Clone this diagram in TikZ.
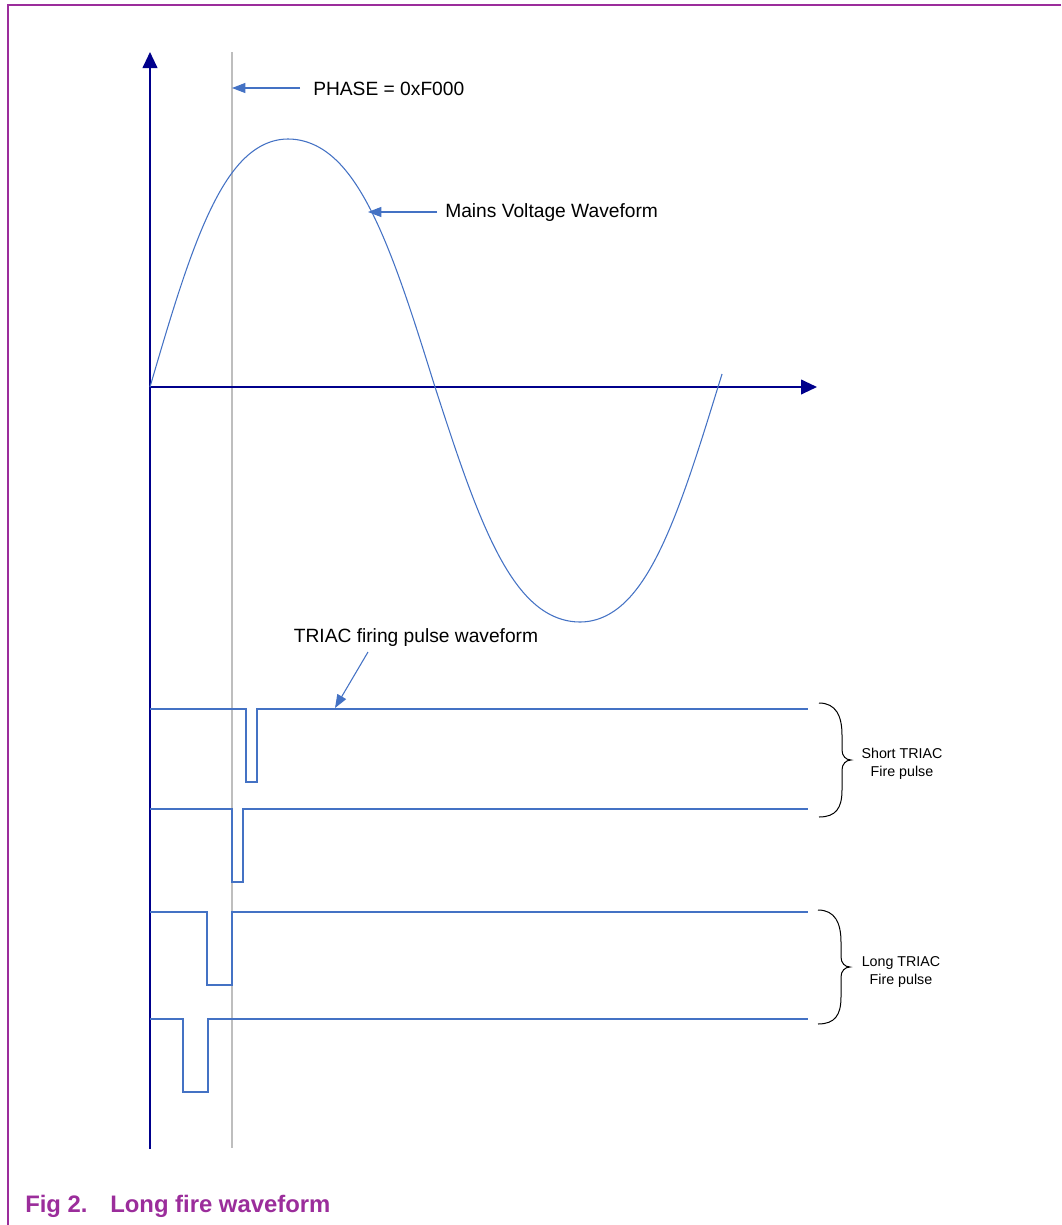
\documentclass[tikz,border=0pt]{standalone}
\usepackage{fontspec}
\setmainfont{Liberation Sans}
\usetikzlibrary{arrows.meta}
\definecolor{axisnavy}{RGB}{0,0,140}
\definecolor{waveblue}{RGB}{68,114,196}
\definecolor{guidegrey}{RGB}{190,190,190}
\definecolor{framepurple}{RGB}{155,45,155}
\begin{document}
\begin{tikzpicture}[x=0.75pt,y=-0.75pt,
  declare function={wf(\t)=(sin(\t)+0.05*sin(3*\t))/0.95;},
  axisline/.style={draw=axisnavy,line width=1.5pt,-{Triangle[length=12pt,width=11pt]}},
  wave/.style={draw=waveblue,line width=0.8pt},
  callout/.style={draw=waveblue,line width=0.8pt,-{Triangle[length=10pt,width=7.5pt]}},
  guide/.style={draw=guidegrey,line width=0.8pt},
  lbl/.style={font=\fontsize{14.4}{17}\selectfont,inner sep=0pt},
  smalllbl/.style={font=\fontsize{10.7}{13.5}\selectfont,align=center,inner sep=0pt},
  bracecurve/.style={draw=black,line width=0.75pt},
  captionlbl/.style={font=\fontsize{17.9}{21}\selectfont\bfseries,text=framepurple,inner sep=0pt,anchor=base west}]
\useasboundingbox (0,0) rectangle (1061,1225);
% frame
\draw[draw=framepurple,line width=0.9pt] (1061,5) -- (8,5) -- (8,1225);
% guide line
\coordinate (gtop) at (232,52);
\coordinate (gbot) at (232,1148);
\draw[guide] (gtop) -- (gbot);
% axes
\coordinate (O) at (150,387);
\coordinate (ytop) at (150,52);
\coordinate (ybot) at (150,1149);
\coordinate (xend) at (817,387);
\draw[axisline] (ybot) -- (ytop);
\draw[axisline] (O) -- (xend);
% mains waveform (four quarters)
\draw[wave,line join=round]
  plot[domain=150:288,samples=60] (\x,{387-248*wf((\x-150)/138*90)})
  -- plot[domain=288:435,samples=60] (\x,{387-248*wf((435-\x)/147*90)})
  -- plot[domain=435:580,samples=60] (\x,{387+235*wf((\x-435)/145*90)})
  -- plot[domain=580:722,samples=60] (\x,{387+235*wf((718-\x)/138*90)});
% labels and callouts
\node[lbl,anchor=base west] (phase) at (313,95) {PHASE = 0xF000};
\coordinate (phstart) at (300,88);
\coordinate (phtip) at (232,88);
\draw[callout] (phstart) -- (phtip);
\node[lbl,anchor=base west] (mains) at (445,217) {Mains Voltage Waveform};
\coordinate (mstart) at (437,212);
\coordinate (mtip) at (368,212);
\draw[callout] (mstart) -- (mtip);
\node[lbl,anchor=base] (triac) at (416,642) {TRIAC firing pulse waveform};
\coordinate (tstart) at (368,652);
\coordinate (ttip) at (335,708);
\draw[callout] (tstart) -- (ttip);
% pulse waveforms
\draw[wave] (150,709) -- (246,709) -- (246,782) -- (257,782) -- (257,709) -- (808,709);
\draw[wave] (150,809) -- (232,809) -- (232,882) -- (243,882) -- (243,809) -- (808,809);
\draw[wave] (150,912) -- (207,912) -- (207,985) -- (232,985) -- (232,912) -- (808,912);
\draw[wave] (150,1019) -- (183,1019) -- (183,1092) -- (208,1092) -- (208,1019) -- (808,1019);
% braces
\draw[bracecurve] (819,703) .. controls (836,703) and (842,716) .. (842,735) -- (842,750)
  .. controls (842,756) and (846,760) .. (851,760)
  .. controls (846,760) and (842,764) .. (842,770) -- (842,790)
  .. controls (842,808) and (836,817) .. (819,817);
\node[smalllbl] (shortlbl) at (902,764) {Short TRIAC\\Fire pulse};
\draw[bracecurve] (818,910) .. controls (835,910) and (841,923) .. (841,942) -- (841,957)
  .. controls (841,963) and (845,967) .. (850,967)
  .. controls (845,967) and (841,971) .. (841,977) -- (841,997)
  .. controls (841,1015) and (835,1024) .. (818,1024);
\node[smalllbl] (longlbl) at (901,972) {Long TRIAC\\Fire pulse};
% caption
\node[captionlbl] (fig) at (25,1212) {Fig 2.};
\node[captionlbl] (figtitle) at (110,1212) {Long fire waveform};
\end{tikzpicture}
\end{document}
